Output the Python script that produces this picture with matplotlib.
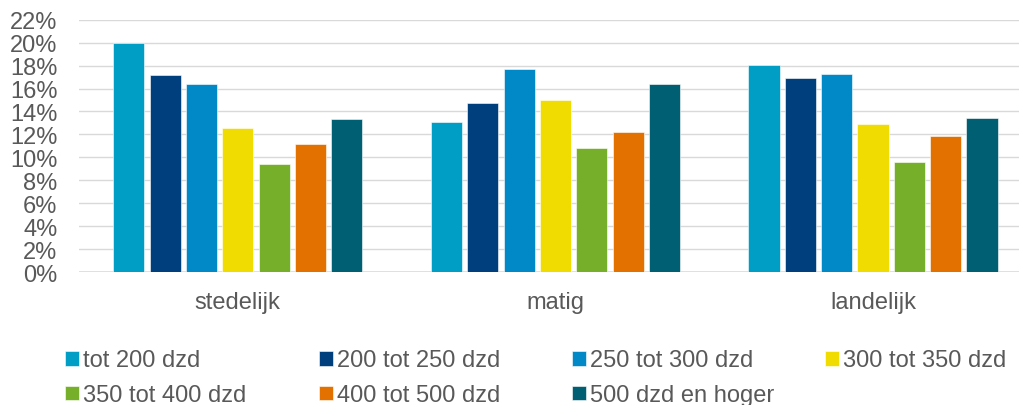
import matplotlib
matplotlib.use("Agg")
import matplotlib.pyplot as plt
import numpy as np
from matplotlib.ticker import FuncFormatter, MultipleLocator

# Share of households per price band, by degree of urbanisation
categories = ["stedelijk", "matig", "landelijk"]
series_labels = ["tot 200 dzd", "200 tot 250 dzd", "250 tot 300 dzd", "300 tot 350 dzd",
                 "350 tot 400 dzd", "400 tot 500 dzd", "500 dzd en hoger"]
values = {
    "tot 200 dzd":      [19.97, 13.11, 18.02],
    "200 tot 250 dzd":  [17.15, 14.70, 16.91],
    "250 tot 300 dzd":  [16.36, 17.70, 17.29],
    "300 tot 350 dzd":  [12.55, 15.02, 12.87],
    "350 tot 400 dzd":  [9.42, 10.78, 9.59],
    "400 tot 500 dzd":  [11.13, 12.23, 11.89],
    "500 dzd en hoger": [13.34, 16.36, 13.46],
}
colors = ["#009EC4", "#003F7D", "#0089C6", "#F0DC00", "#76B02A", "#E27100", "#005F73"]

W, H = 1020, 406
fig = plt.figure(figsize=(W / 100, H / 100), dpi=100)
plt.rcParams["font.family"] = ["Liberation Sans", "DejaVu Sans"]
text_color = "#595959"
fs = 17

ax_left, ax_bottom_px, ax_top_px = 79, 273, 20.7
ax = fig.add_axes([ax_left / W, 1 - ax_bottom_px / H, (W - ax_left) / W, (ax_bottom_px - ax_top_px) / H])

x = np.arange(len(categories))
pitch = 0.1144
bar_w = 0.0977
handles = []
for i, (lab, col) in enumerate(zip(series_labels, colors)):
    offs = (i - 3) * pitch
    h = ax.bar(x + offs, np.array(values[lab]) / 100, width=bar_w, color=col,
               edgecolor="white", linewidth=0.4, label=lab, zorder=3)
    handles.append(h)

group_px = 317.6
ax.set_xlim(-0.5, 2.5 - (ax_left + 3 * group_px - W) / group_px)
ax.set_ylim(0, 0.22)
ax.yaxis.set_major_locator(MultipleLocator(0.02))
ax.yaxis.set_major_formatter(FuncFormatter(lambda v, p: f"{round(v * 100)}%"))
ax.grid(axis="y", color="#D9D9D9", linewidth=1.0, zorder=0)
ax.set_axisbelow(True)
for s in ax.spines.values():
    s.set_visible(False)
ax.axhline(0, color="#D9D9D9", linewidth=1.1, zorder=2)
ax.set_xticks(x)
ax.set_xticklabels(categories)
ax.tick_params(axis="both", length=0, labelsize=fs, labelcolor=text_color)
ax.tick_params(axis="y", pad=15.5)
ax.tick_params(axis="x", pad=14)

# Legend laid out in four fixed-width columns
col_x = [65, 319, 572, 825]
columns = [[0, 4], [1, 5], [2, 6], [3]]
for cx, idxs in zip(col_x, columns):
    leg = fig.legend([handles[j] for j in idxs], [series_labels[j] for j in idxs],
                     loc="upper left", bbox_to_anchor=(cx / W, 1 - 350.5 / H),
                     bbox_transform=fig.transFigure, frameon=False, fontsize=fs,
                     handlelength=0.58, handleheight=0.58, handletextpad=0.2,
                     labelspacing=0.55, borderpad=0, borderaxespad=0)
    for t in leg.get_texts():
        t.set_color(text_color)

fig.savefig("out.png", dpi=100)
